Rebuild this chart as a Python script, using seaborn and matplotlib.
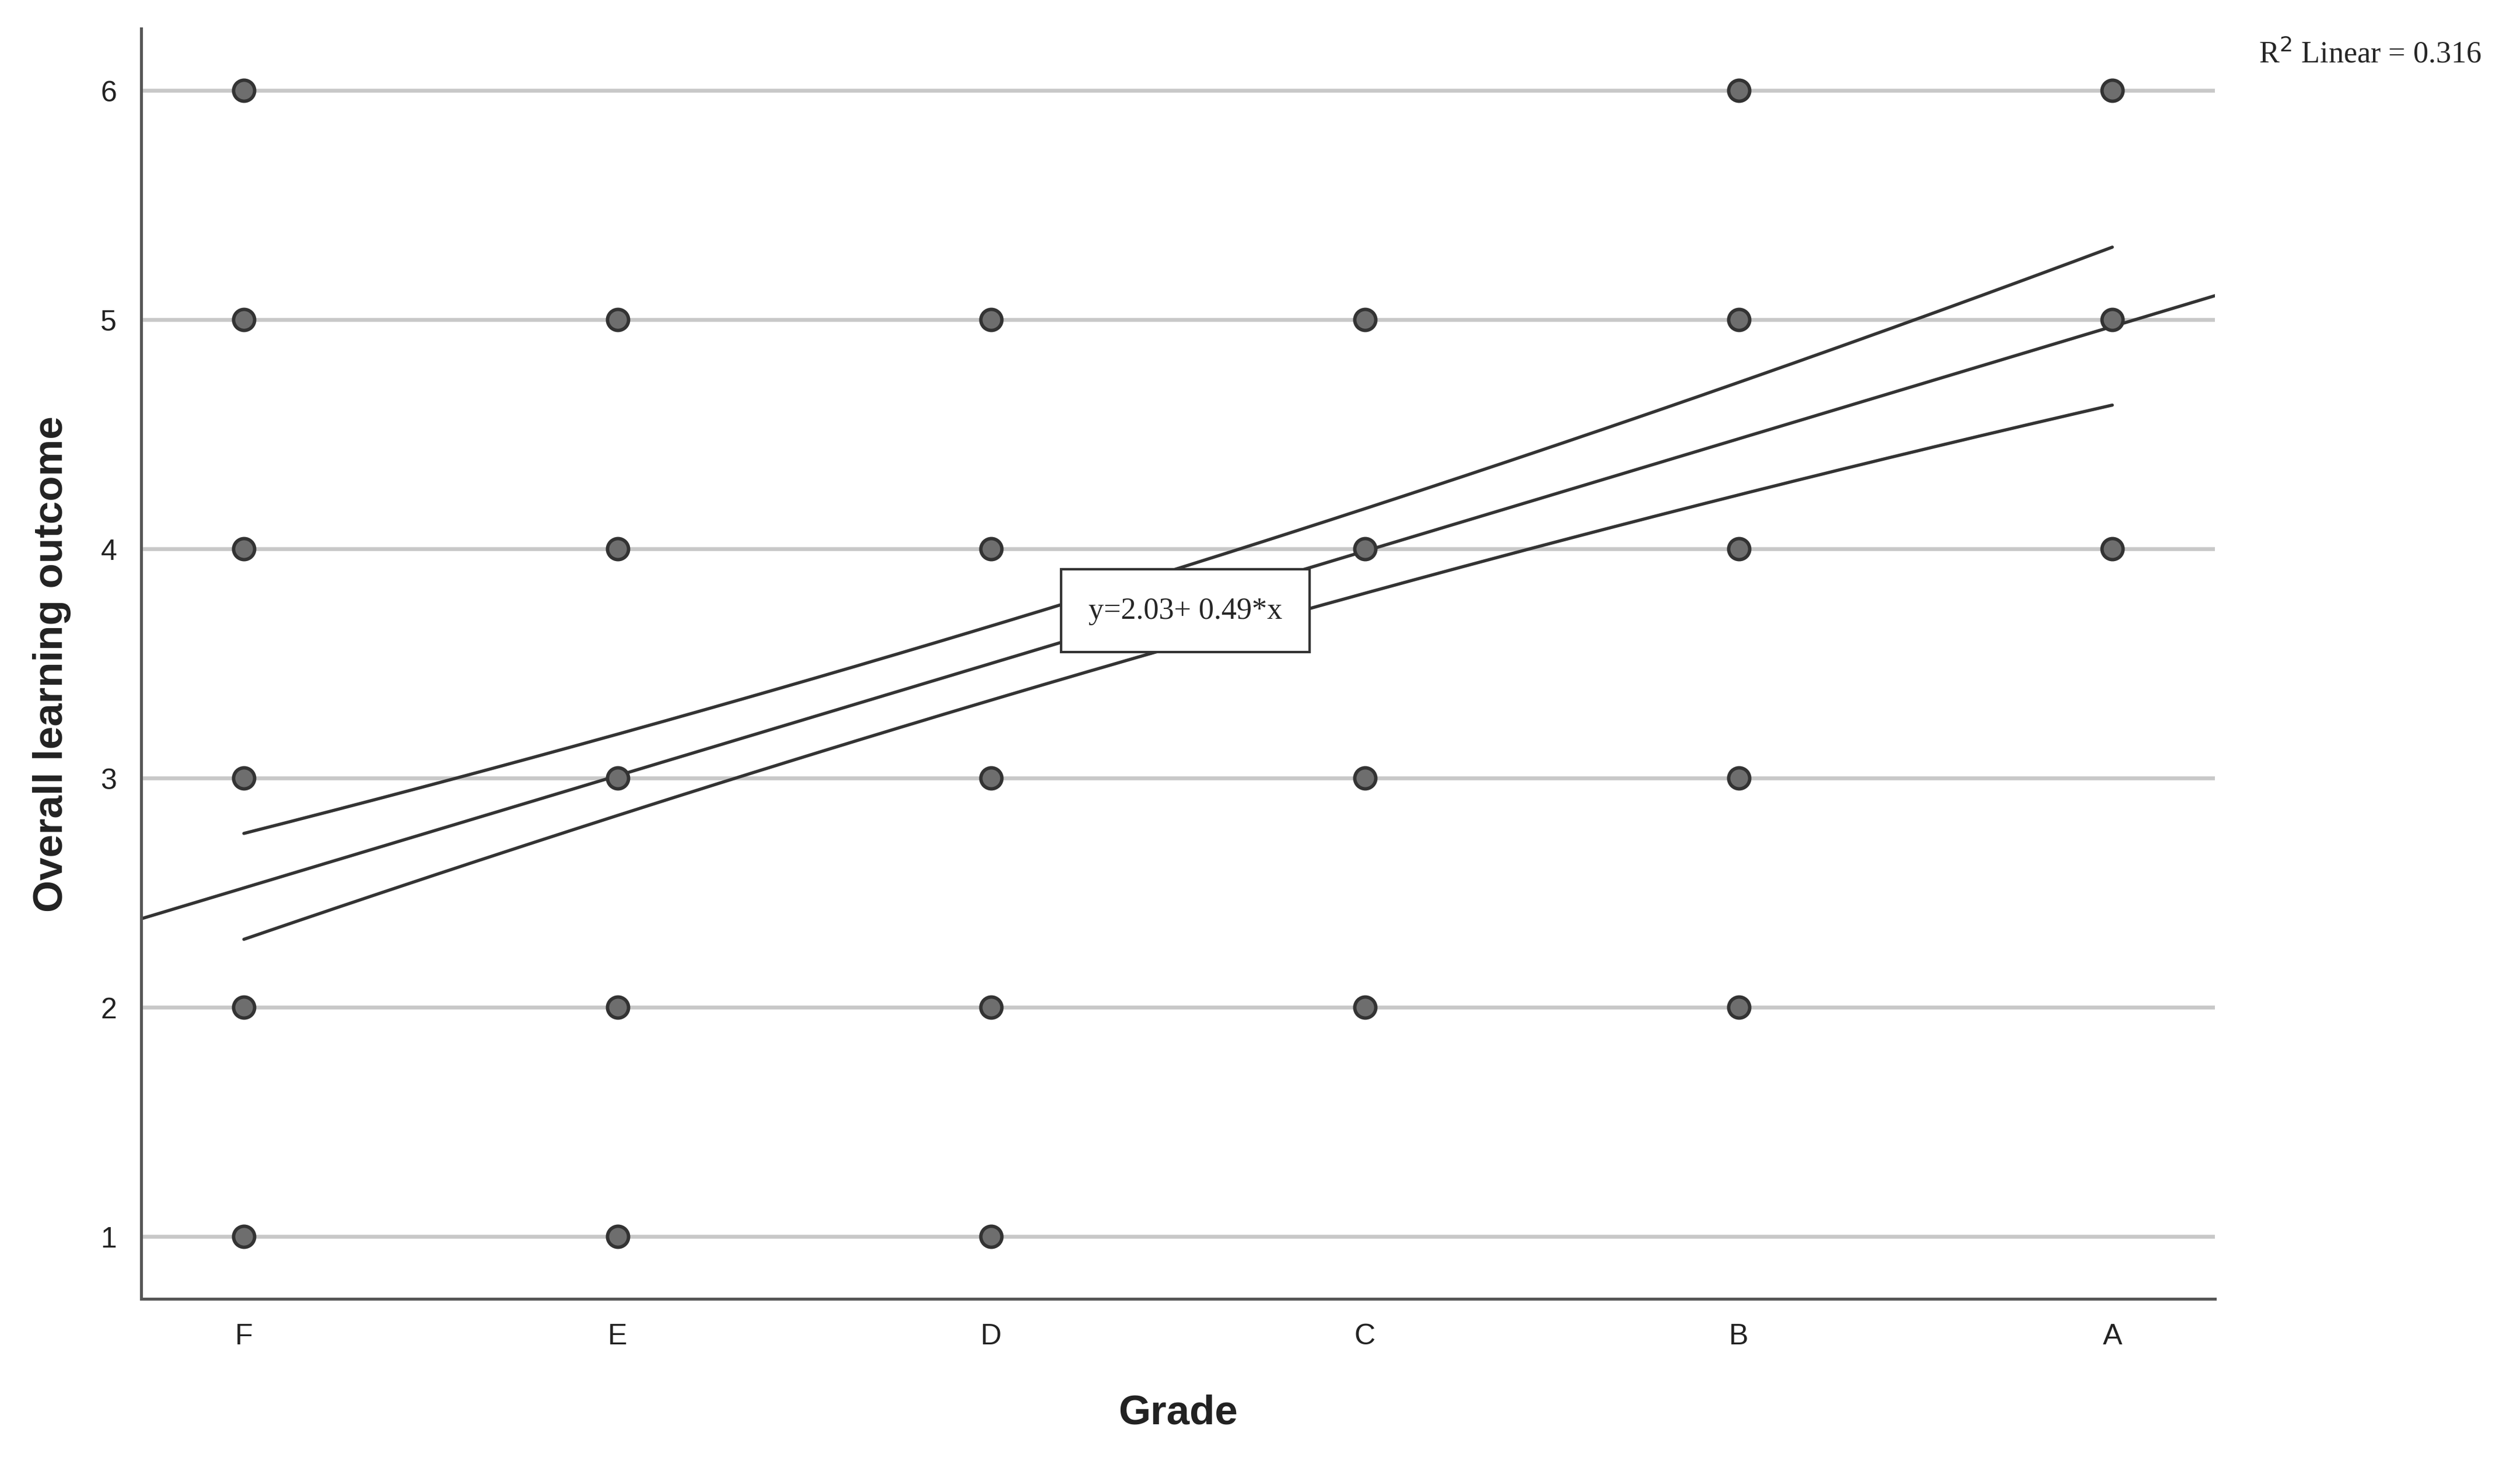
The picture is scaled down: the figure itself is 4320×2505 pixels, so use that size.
import matplotlib
matplotlib.use("Agg")
import matplotlib.pyplot as plt
import seaborn as sns
import numpy as np
import pandas as pd

grades = ["F", "E", "D", "C", "B", "A"]
pt_grade = ["F"]*6 + ["E"]*5 + ["D"]*5 + ["C"]*4 + ["B"]*5 + ["A"]*3
pt_outcome = [6,5,4,3,2,1, 5,4,3,2,1, 5,4,3,2,1, 5,4,3,2, 6,5,4,3,2, 6,5,4]
intercept, slope = 2.03, 0.49
ci_upper = [2.76, 3.19, 3.66, 4.17, 4.74, 5.31]
ci_lower = [2.29, 2.83, 3.38, 3.78, 4.22, 4.64]
r2 = 0.316

sns.set_theme(style="white")
plt.rcParams['font.family'] = ['Liberation Sans', 'DejaVu Sans']

fig = plt.figure(figsize=(14.4, 8.3533), dpi=300)
ax = fig.add_axes([0.056, 0.111, 0.823, 0.869])

df = pd.DataFrame({"x": [grades.index(g) + 1 for g in pt_grade], "y": pt_outcome})
for v in range(1, 7):
    ax.axhline(v, color="#c8c8c8", lw=1.6, zorder=0)

xl = (0.725, 6.275)
xs = np.array(xl)
ax.plot(xs, intercept + slope * xs, color="#333333", lw=1.3, zorder=2)
gx = np.arange(1, 7)
# smooth drawing of the confidence band through the read values
xf = np.linspace(1, 6, 200)
ax.plot(xf, np.polyval(np.polyfit(gx, ci_upper, 2), xf), color="#333333", lw=1.3, zorder=2)
ax.plot(xf, np.polyval(np.polyfit(gx, ci_lower, 2), xf), color="#333333", lw=1.3, zorder=2)

sns.scatterplot(data=df, x="x", y="y", ax=ax, s=75, color="#6e6e6e",
                edgecolor="#333333", linewidth=1.4, zorder=3)

ax.set_xlim(*xl)
ax.set_ylim(0.727, 6.27)
ax.set_xticks(gx)
ax.set_xticklabels(grades)
ax.set_yticks(range(1, 7))
ax.tick_params(axis="both", labelsize=12, length=0, pad=10, colors="#222222")
for s in ["top", "right"]:
    ax.spines[s].set_visible(False)
for s in ["left", "bottom"]:
    ax.spines[s].set_color("#555555")
    ax.spines[s].set_linewidth(1.2)
ax.set_xlabel("Grade", fontsize=17, fontweight="bold", labelpad=18, color="#222222")
ax.set_ylabel("Overall learning outcome", fontsize=17, fontweight="bold", labelpad=12, color="#222222")

ax.text(3.52, 3.73, "y=2.03+ 0.49*x", fontsize=12.5, family="Liberation Serif",
        ha="center", va="center", zorder=4,
        bbox=dict(boxstyle="square,pad=0.9", fc="white", ec="#333333", lw=1))
fig.text(0.9405, 0.963, "R$^2$ Linear = %.3f" % r2, fontsize=12.5, family="Liberation Serif",
         ha="center", va="center")

fig.savefig("out.png", dpi=300)
